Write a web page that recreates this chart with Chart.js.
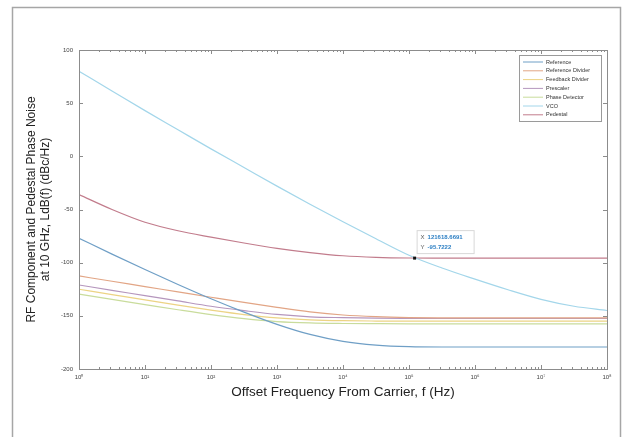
<!DOCTYPE html>
<html>
<head>
<meta charset="utf-8">
<script src="https://cdn.jsdelivr.net/npm/chart.js@4.4.0/dist/chart.umd.min.js"></script>
<style>
  html, body { margin: 0; padding: 0; background: #fff; }
  #wrap { width: 627px; height: 437px; }
</style>
</head>
<body>
<div id="wrap"><canvas id="noiseChart" width="627" height="437"></canvas></div>
<script>
// offset frequencies (Hz), half-decade steps
const freqs = [1, 3.162, 10, 31.62, 100, 316.2, 1e3, 3162, 1e4, 31623, 1e5, 316228, 1e6, 3162278, 1e7, 31622777, 1e8];

// phase noise (dBc/Hz)
const reference      = [-77, -92, -106.5, -120.5, -134, -146.5, -158, -167.5, -174, -177.5, -179, -179.3, -179.3, -179.3, -179.3, -179.3, -179.3];
const refDivider     = [-112.5, -117.5, -122.5, -127.5, -132.5, -137.4, -142, -146.2, -149.2, -150.8, -151.6, -151.9, -152, -152, -152, -152, -152];
const fbDivider      = [-125, -130, -135, -140, -144.6, -148.8, -152, -153.8, -154.6, -154.9, -155, -155, -155, -155, -155, -155, -155];
const prescaler      = [-121, -126, -131, -136, -141, -145.1, -148.7, -150.9, -151.7, -152.2, -152.4, -152.5, -152.5, -152.5, -152.5, -152.5, -152.5];
const phaseDetector  = [-129.5, -134.5, -139.4, -144.3, -148.9, -152.7, -155.4, -156.7, -157.2, -157.4, -157.5, -157.5, -157.5, -157.5, -157.5, -157.5, -157.5];
const vco            = [80, 61.5, 43, 25, 7, -10.5, -28, -45, -61.5, -77.5, -93, -105, -115.5, -125.5, -134.5, -141, -145];
const pedestal       = [-36, -50, -62, -70, -76, -81.5, -86.5, -90.5, -93.5, -95, -95.6, -95.7, -95.7, -95.7, -95.7, -95.7, -95.7];

const seriesNames  = ['Reference', 'Reference Divider', 'Feedback Divider', 'Prescaler', 'Phase Detector', 'VCO', 'Pedestal'];
const seriesValues = [reference, refDivider, fbDivider, prescaler, phaseDetector, vco, pedestal];
const seriesColors = ['#6f9fc6', '#e2a585', '#ecd384', '#b596bd', '#c9dc9c', '#a3d6ea', '#c27c8c'];

const yTicks = [100, 50, 0, -50, -100, -150, -200];
const xTickLabels = ['10⁰', '10¹', '10²', '10³', '10⁴', '10⁵', '10⁶', '10⁷', '10⁸'];

// data tip
const tipX = 121618.6691;
const tipY = -95.7222;

const datasets = seriesNames.map((name, i) => ({
  label: name,
  data: freqs.map((f, k) => ({ x: f, y: seriesValues[i][k] })),
  borderColor: seriesColors[i],
  borderWidth: 1.2,
  pointRadius: 0,
  fill: false,
  cubicInterpolationMode: 'monotone'
}));

// gray figure frame
const framePlugin = {
  id: 'frame',
  beforeDraw(chart) {
    const ctx = chart.ctx;
    ctx.save();
    ctx.fillStyle = '#fff';
    ctx.fillRect(0, 0, chart.width, chart.height);
    ctx.strokeStyle = '#a6a6a6';
    ctx.lineWidth = 1.5;
    ctx.strokeRect(12.5, 7.5, 608, 440);
    ctx.restore();
  }
};

// MATLAB style box with inward ticks
const boxPlugin = {
  id: 'boxTicks',
  afterDatasetsDraw(chart) {
    const { ctx, chartArea: a, scales: { x, y } } = chart;
    ctx.save();
    ctx.strokeStyle = '#8c8c8c';
    ctx.lineWidth = 1;
    ctx.strokeRect(a.left + 0.5, a.top + 0.5, a.right - a.left, a.bottom - a.top);
    ctx.beginPath();
    for (let d = 0; d <= 8; d++) {
      for (let m = 1; m < 10; m++) {
        if (d === 8 && m > 1) break;
        const px = Math.round(x.getPixelForValue(m * Math.pow(10, d))) + 0.5;
        const len = m === 1 ? 4 : 2;
        ctx.moveTo(px, a.bottom); ctx.lineTo(px, a.bottom - len);
        ctx.moveTo(px, a.top); ctx.lineTo(px, a.top + len);
      }
    }
    yTicks.forEach(v => {
      const py = Math.round(y.getPixelForValue(v)) + 0.5;
      ctx.moveTo(a.left, py); ctx.lineTo(a.left + 4, py);
      ctx.moveTo(a.right, py); ctx.lineTo(a.right - 4, py);
    });
    ctx.stroke();
    ctx.restore();
  }
};

// legend box in upper right corner
const legendPlugin = {
  id: 'legendBox',
  afterDraw(chart) {
    const { ctx, chartArea: a } = chart;
    const w = 82, h = 66;
    const left = a.right - 6 - w, top = a.top + 5;
    ctx.save();
    ctx.fillStyle = '#fff';
    ctx.fillRect(left, top, w, h);
    ctx.strokeStyle = '#9a9a9a';
    ctx.lineWidth = 1;
    ctx.strokeRect(left + 0.5, top + 0.5, w, h);
    ctx.font = '5.5px "Liberation Sans", Arial, sans-serif';
    ctx.textBaseline = 'middle';
    ctx.fillStyle = '#333';
    seriesNames.forEach((name, i) => {
      const yy = top + 7 + i * 8.8;
      ctx.strokeStyle = seriesColors[i];
      ctx.lineWidth = 1;
      ctx.beginPath();
      ctx.moveTo(left + 4, yy); ctx.lineTo(left + 24, yy);
      ctx.stroke();
      ctx.fillText(name, left + 27, yy);
    });
    ctx.restore();
  }
};

// data tip marker and label
const tipPlugin = {
  id: 'dataTip',
  afterDraw(chart) {
    const { ctx, scales: { x, y } } = chart;
    const px = x.getPixelForValue(tipX), py = y.getPixelForValue(tipY);
    ctx.save();
    ctx.fillStyle = '#111';
    ctx.fillRect(px - 1.5, py - 1.5, 3, 3);
    const bl = px + 2, bt = py - 28;
    ctx.fillStyle = 'rgba(255,255,255,0.95)';
    ctx.fillRect(bl, bt, 57, 23);
    ctx.strokeStyle = '#d8d8d8';
    ctx.lineWidth = 1;
    ctx.strokeRect(bl + 0.5, bt + 0.5, 57, 23);
    ctx.textBaseline = 'middle';
    ctx.font = '6px "Liberation Sans", Arial, sans-serif';
    ctx.fillStyle = '#555';
    ctx.fillText('X', bl + 4, bt + 7);
    ctx.fillText('Y', bl + 4, bt + 17);
    ctx.font = 'bold 6px "Liberation Sans", Arial, sans-serif';
    ctx.fillStyle = '#2f80c4';
    ctx.fillText(tipX.toFixed(4), bl + 11, bt + 7);
    ctx.fillText(tipY.toFixed(4), bl + 11, bt + 17);
    ctx.restore();
  }
};

const ctx = document.getElementById('noiseChart').getContext('2d');
new Chart(ctx, {
  type: 'line',
  data: { datasets },
  options: {
    responsive: false,
    animation: false,
    devicePixelRatio: 1,
    layout: { padding: { left: 20, top: 50, right: 20, bottom: 33 } },
    plugins: { legend: { display: false }, tooltip: { enabled: false } },
    scales: {
      x: {
        type: 'logarithmic',
        min: 1,
        max: 1e8,
        grid: { display: false, drawTicks: false },
        border: { display: false },
        afterFit: s => { s.height = 35; },
        afterBuildTicks: s => {
          s.ticks = xTickLabels.map((_, i) => ({ value: Math.pow(10, i) }));
        },
        ticks: {
          autoSkip: false,
          maxRotation: 0,
          padding: 5,
          color: '#444',
          font: { size: 6, family: '"Liberation Sans", Arial, sans-serif' },
          callback: (v, i) => xTickLabels[i]
        },
        title: {
          display: true,
          text: 'Offset Frequency From Carrier, f (Hz)',
          color: '#222',
          font: { size: 13.5, family: '"Liberation Sans", Arial, sans-serif' }
        }
      },
      y: {
        min: -200,
        max: 100,
        grid: { display: false, drawTicks: false },
        border: { display: false },
        afterFit: s => { s.width = 59; },
        afterBuildTicks: s => { s.ticks = yTicks.map(v => ({ value: v })); },
        ticks: {
          padding: 6,
          color: '#444',
          font: { size: 6, family: '"Liberation Sans", Arial, sans-serif' }
        },
        title: {
          display: true,
          text: ['RF Component and Pedestal Phase Noise', 'at 10 GHz, LdB(f) (dBc/Hz)'],
          color: '#222',
          font: { size: 12, family: '"Liberation Sans", Arial, sans-serif' }
        }
      }
    }
  },
  plugins: [framePlugin, boxPlugin, legendPlugin, tipPlugin]
});
</script>
</body>
</html>
